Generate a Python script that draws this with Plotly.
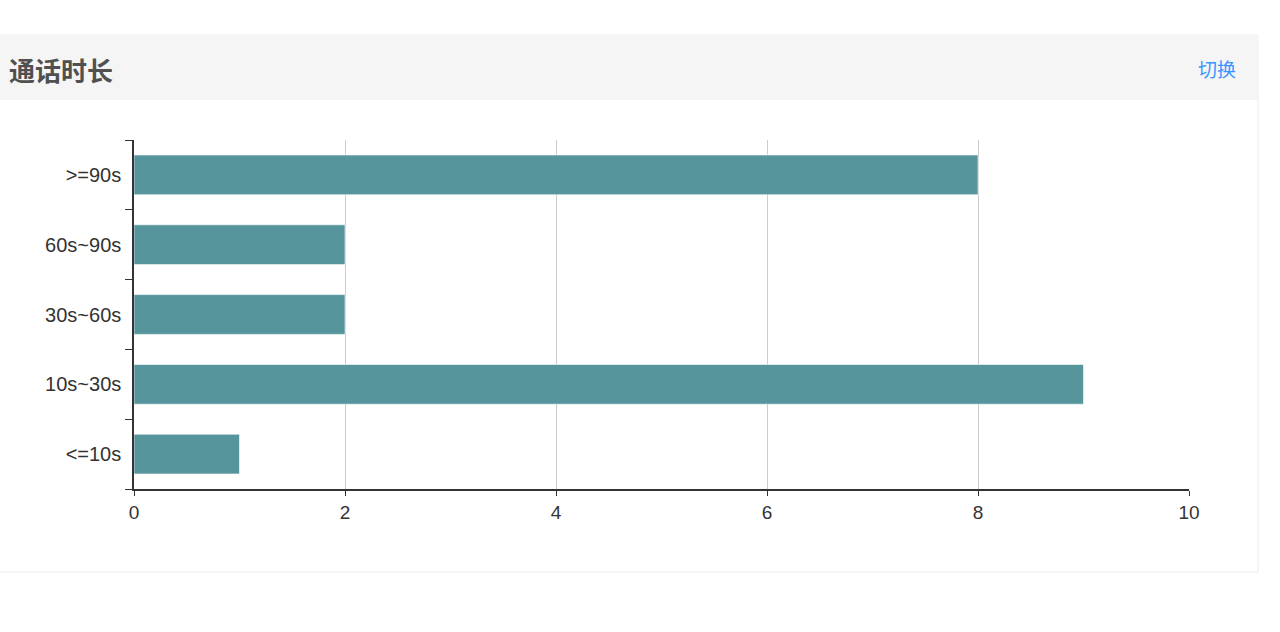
import plotly.graph_objects as go

categories = ["<=10s", "10s~30s", "30s~60s", "60s~90s", ">=90s"]
values = [1, 9, 2, 2, 8]
x_ticks = [0, 2, 4, 6, 8, 10]
title_text = "通话时长"
switch_text = "切换"

W, H = 1280, 632
def px(x):
    return x / W
def py(y):
    return (H - y) / H

fig = go.Figure()
fig.add_trace(go.Bar(
    y=categories, x=values, orientation="h",
    marker=dict(color="#57959d", line=dict(color="rgba(255,255,255,0.6)", width=1)),
    hoverinfo="x+y",
))

fig.update_layout(
    width=W, height=H, autosize=False,
    margin=dict(l=0, r=0, t=0, b=0, pad=0, autoexpand=False),
    paper_bgcolor="white", plot_bgcolor="rgba(0,0,0,0)",
    showlegend=False,
    bargap=0.43,
    font=dict(family="Liberation Sans, Arial, sans-serif", size=20, color="#333"),
    xaxis=dict(
        domain=[px(134), px(1189)],
        range=[0, 10], tickvals=x_ticks,
        automargin=False,
        showgrid=True, gridcolor="#cccccc", gridwidth=1,
        zeroline=False,
        showline=True, linecolor="#333", linewidth=1.5,
        ticks="outside", ticklen=5, tickcolor="#333",
        tickfont=dict(size=19, color="#333"),
        fixedrange=True,
    ),
    yaxis=dict(
        domain=[py(489), py(140)],
        type="category", categoryorder="array", categoryarray=categories,
        automargin=False,
        showgrid=False, zeroline=False,
        showline=True, linecolor="#333", linewidth=1.5,
        ticks="outside", ticklen=7, tickcolor="#333",
        tickson="boundaries",
        ticklabelstandoff=7,
        tickfont=dict(size=20, color="#333"),
        fixedrange=True,
    ),
    shapes=[
        dict(type="rect", xref="paper", yref="paper",
             x0=-0.01, x1=px(1258), y0=py(572), y1=py(35),
             line=dict(color="#ececec", width=1), fillcolor="white", layer="below"),
        dict(type="rect", xref="paper", yref="paper",
             x0=-0.01, x1=px(1257.5), y0=py(100), y1=py(35.5),
             line=dict(width=0), fillcolor="#f5f5f5", layer="below"),
    ],
    annotations=[
        dict(text=title_text, xref="paper", yref="paper", x=px(7), y=py(69),
             xanchor="left", yanchor="middle", showarrow=False,
             font=dict(family="Noto Sans CJK SC", size=26, color="#505050", weight="bold")),
        dict(text=switch_text, xref="paper", yref="paper", x=px(1238), y=py(68),
             xanchor="right", yanchor="middle", showarrow=False,
             font=dict(family="Noto Sans CJK SC", size=19, color="#3a96ff")),
    ],
)

fig.write_html("out.html", config={"displayModeBar": False},
               post_script="document.body.style.margin='0';document.body.style.overflow='hidden';")
